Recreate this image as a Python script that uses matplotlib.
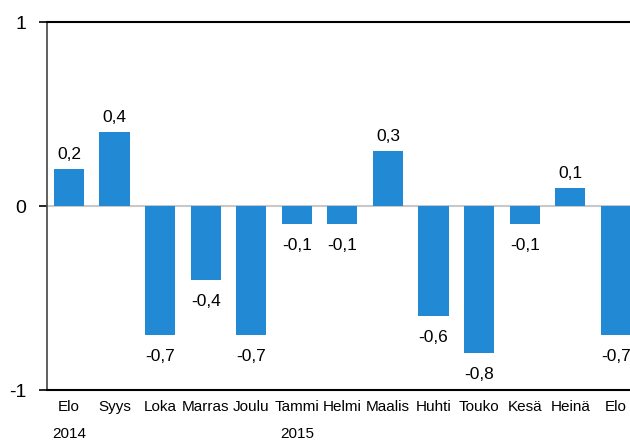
import numpy as np
import matplotlib.pyplot as plt

plt.rcParams['font.family'] = ['Liberation Sans', 'DejaVu Sans']

months = ["Elo", "Syys", "Loka", "Marras", "Joulu", "Tammi", "Helmi",
          "Maalis", "Huhti", "Touko", "Kesä", "Heinä", "Elo"]
values = [0.2, 0.4, -0.7, -0.4, -0.7, -0.1, -0.1, 0.3, -0.6, -0.8, -0.1, 0.1, -0.7]
years = {0: "2014", 5: "2015"}

bar_color = "#228ad4"

fig = plt.figure(figsize=(6.3, 4.42), dpi=100)
ax = fig.add_axes([0.0746, 0.1176, 0.9254, 0.8326])

x = np.arange(len(values))
ax.bar(x, values, width=0.66, color=bar_color, zorder=3)
ax.axhline(0, color="#c8c8c8", lw=1.5, zorder=2)

for xi, v in zip(x, values):
    lab = "{:.1f}".format(v).replace(".", ",")
    if v >= 0:
        ax.annotate(lab, (xi, v), xytext=(0, 5), textcoords="offset points",
                    ha="center", va="bottom", fontsize=12.5)
    else:
        ax.annotate(lab, (xi, v), xytext=(0, -10), textcoords="offset points",
                    ha="center", va="top", fontsize=12.5)

ax.set_xlim(-0.48, 12.31)
ax.set_ylim(-1, 1)
ax.set_yticks([-1, 0, 1])
ax.set_yticklabels(["-1", "0", "1"], fontsize=14)
ax.tick_params(axis="y", length=6, width=1.2, direction="out", pad=9)

ax.set_xticks(x)
ax.set_xticklabels(months, fontsize=11)
ax.tick_params(axis="x", length=0, pad=7)

for i, yr in years.items():
    ax.text(i, -0.1, yr, transform=ax.get_xaxis_transform(), ha="center",
            va="top", fontsize=11)

ax.spines["right"].set_visible(False)
ax.spines["top"].set_color("black")
ax.spines["top"].set_linewidth(1.5)
ax.spines["bottom"].set_color("black")
ax.spines["bottom"].set_linewidth(1.5)
ax.spines["left"].set_color("#444444")
ax.spines["left"].set_linewidth(1.2)

fig.savefig("out.png", dpi=100)
